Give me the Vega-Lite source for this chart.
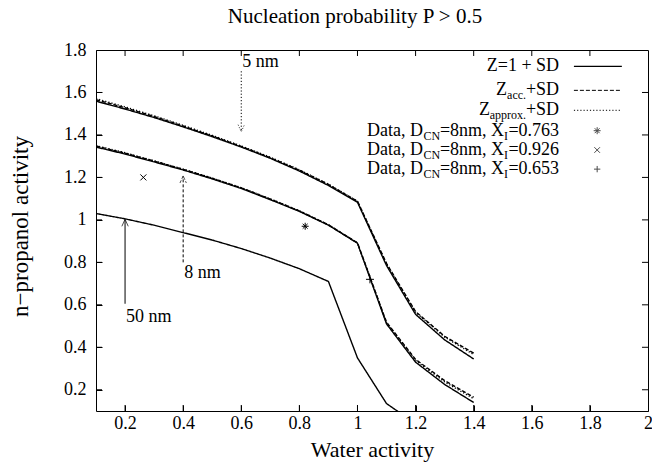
{
  "$schema": "https://vega.github.io/schema/vega-lite/v6.json",
  "width": 552,
  "height": 361,
  "autosize": {"type": "none"},
  "padding": {"left": 96, "top": 50, "right": 4, "bottom": 55},
  "background": "white",
  "config": {
    "font": "Liberation Serif",
    "view": {"stroke": "black", "strokeWidth": 1},
    "axis": {
      "labelFont": "Liberation Serif", "labelFontSize": 18, "labelColor": "black",
      "titleFont": "Liberation Serif", "titleFontSize": 22, "titleFontWeight": "normal", "titleColor": "black",
      "ticks": true, "tickColor": "black", "tickOpacity": 1, "tickSize": 6, "tickWidth": 1, "offset": -6, "domain": false, "grid": false, "zindex": 1,
      "labelFlush": false, "labelOverlap": false, "labelBound": false
    },
    "text": {"font": "Liberation Serif", "fontSize": 18, "color": "black"}
  },
  "title": {"text": "Nucleation probability P > 0.5", "font": "Liberation Serif", "fontSize": 21, "fontWeight": "normal", "color": "black", "dx": -17, "offset": 14},
  "data": {"values": [{}]},
  "datasets": {
    "curves": [
      {"a":0.1,"p":1.559,"c":"5 nm","m":"Z=1 + SD"},{"a":0.2,"p":1.522,"c":"5 nm","m":"Z=1 + SD"},{"a":0.3,"p":1.482,"c":"5 nm","m":"Z=1 + SD"},{"a":0.4,"p":1.438,"c":"5 nm","m":"Z=1 + SD"},{"a":0.5,"p":1.392,"c":"5 nm","m":"Z=1 + SD"},{"a":0.6,"p":1.343,"c":"5 nm","m":"Z=1 + SD"},{"a":0.7,"p":1.29,"c":"5 nm","m":"Z=1 + SD"},{"a":0.8,"p":1.23,"c":"5 nm","m":"Z=1 + SD"},{"a":0.9,"p":1.162,"c":"5 nm","m":"Z=1 + SD"},{"a":1.0,"p":1.083,"c":"5 nm","m":"Z=1 + SD"},{"a":1.1,"p":0.785,"c":"5 nm","m":"Z=1 + SD"},{"a":1.2,"p":0.555,"c":"5 nm","m":"Z=1 + SD"},{"a":1.3,"p":0.435,"c":"5 nm","m":"Z=1 + SD"},{"a":1.4,"p":0.345,"c":"5 nm","m":"Z=1 + SD"},
      {"a":0.1,"p":1.566,"c":"5 nm","m":"Zacc"},{"a":0.2,"p":1.528,"c":"5 nm","m":"Zacc"},{"a":0.3,"p":1.487,"c":"5 nm","m":"Zacc"},{"a":0.4,"p":1.442,"c":"5 nm","m":"Zacc"},{"a":0.5,"p":1.395,"c":"5 nm","m":"Zacc"},{"a":0.6,"p":1.346,"c":"5 nm","m":"Zacc"},{"a":0.7,"p":1.293,"c":"5 nm","m":"Zacc"},{"a":0.8,"p":1.234,"c":"5 nm","m":"Zacc"},{"a":0.9,"p":1.167,"c":"5 nm","m":"Zacc"},{"a":1.0,"p":1.088,"c":"5 nm","m":"Zacc"},{"a":1.1,"p":0.795,"c":"5 nm","m":"Zacc"},{"a":1.2,"p":0.568,"c":"5 nm","m":"Zacc"},{"a":1.3,"p":0.452,"c":"5 nm","m":"Zacc"},{"a":1.4,"p":0.372,"c":"5 nm","m":"Zacc"},
      {"a":0.1,"p":1.571,"c":"5 nm","m":"Zapprox"},{"a":0.2,"p":1.532,"c":"5 nm","m":"Zapprox"},{"a":0.3,"p":1.49,"c":"5 nm","m":"Zapprox"},{"a":0.4,"p":1.445,"c":"5 nm","m":"Zapprox"},{"a":0.5,"p":1.398,"c":"5 nm","m":"Zapprox"},{"a":0.6,"p":1.348,"c":"5 nm","m":"Zapprox"},{"a":0.7,"p":1.295,"c":"5 nm","m":"Zapprox"},{"a":0.8,"p":1.236,"c":"5 nm","m":"Zapprox"},{"a":0.9,"p":1.168,"c":"5 nm","m":"Zapprox"},{"a":1.0,"p":1.088,"c":"5 nm","m":"Zapprox"},{"a":1.1,"p":0.792,"c":"5 nm","m":"Zapprox"},{"a":1.2,"p":0.565,"c":"5 nm","m":"Zapprox"},{"a":1.3,"p":0.448,"c":"5 nm","m":"Zapprox"},{"a":1.4,"p":0.366,"c":"5 nm","m":"Zapprox"},
      {"a":0.1,"p":1.343,"c":"8 nm","m":"Z=1 + SD"},{"a":0.2,"p":1.31,"c":"8 nm","m":"Z=1 + SD"},{"a":0.3,"p":1.273,"c":"8 nm","m":"Z=1 + SD"},{"a":0.4,"p":1.235,"c":"8 nm","m":"Z=1 + SD"},{"a":0.5,"p":1.193,"c":"8 nm","m":"Z=1 + SD"},{"a":0.6,"p":1.148,"c":"8 nm","m":"Z=1 + SD"},{"a":0.7,"p":1.095,"c":"8 nm","m":"Z=1 + SD"},{"a":0.8,"p":1.04,"c":"8 nm","m":"Z=1 + SD"},{"a":0.9,"p":0.975,"c":"8 nm","m":"Z=1 + SD"},{"a":1.0,"p":0.89,"c":"8 nm","m":"Z=1 + SD"},{"a":1.1,"p":0.51,"c":"8 nm","m":"Z=1 + SD"},{"a":1.2,"p":0.33,"c":"8 nm","m":"Z=1 + SD"},{"a":1.3,"p":0.225,"c":"8 nm","m":"Z=1 + SD"},{"a":1.4,"p":0.14,"c":"8 nm","m":"Z=1 + SD"},
      {"a":0.1,"p":1.348,"c":"8 nm","m":"Zacc"},{"a":0.2,"p":1.314,"c":"8 nm","m":"Zacc"},{"a":0.3,"p":1.277,"c":"8 nm","m":"Zacc"},{"a":0.4,"p":1.238,"c":"8 nm","m":"Zacc"},{"a":0.5,"p":1.196,"c":"8 nm","m":"Zacc"},{"a":0.6,"p":1.151,"c":"8 nm","m":"Zacc"},{"a":0.7,"p":1.098,"c":"8 nm","m":"Zacc"},{"a":0.8,"p":1.042,"c":"8 nm","m":"Zacc"},{"a":0.9,"p":0.977,"c":"8 nm","m":"Zacc"},{"a":1.0,"p":0.892,"c":"8 nm","m":"Zacc"},{"a":1.1,"p":0.518,"c":"8 nm","m":"Zacc"},{"a":1.2,"p":0.343,"c":"8 nm","m":"Zacc"},{"a":1.3,"p":0.243,"c":"8 nm","m":"Zacc"},{"a":1.4,"p":0.165,"c":"8 nm","m":"Zacc"},
      {"a":0.1,"p":1.35,"c":"8 nm","m":"Zapprox"},{"a":0.2,"p":1.316,"c":"8 nm","m":"Zapprox"},{"a":0.3,"p":1.278,"c":"8 nm","m":"Zapprox"},{"a":0.4,"p":1.239,"c":"8 nm","m":"Zapprox"},{"a":0.5,"p":1.197,"c":"8 nm","m":"Zapprox"},{"a":0.6,"p":1.152,"c":"8 nm","m":"Zapprox"},{"a":0.7,"p":1.099,"c":"8 nm","m":"Zapprox"},{"a":0.8,"p":1.043,"c":"8 nm","m":"Zapprox"},{"a":0.9,"p":0.977,"c":"8 nm","m":"Zapprox"},{"a":1.0,"p":0.891,"c":"8 nm","m":"Zapprox"},{"a":1.1,"p":0.515,"c":"8 nm","m":"Zapprox"},{"a":1.2,"p":0.338,"c":"8 nm","m":"Zapprox"},{"a":1.3,"p":0.237,"c":"8 nm","m":"Zapprox"},{"a":1.4,"p":0.158,"c":"8 nm","m":"Zapprox"},
      {"a":0.1,"p":1.03,"c":"50 nm","m":"Z=1 + SD"},{"a":0.2,"p":1.005,"c":"50 nm","m":"Z=1 + SD"},{"a":0.3,"p":0.975,"c":"50 nm","m":"Z=1 + SD"},{"a":0.4,"p":0.94,"c":"50 nm","m":"Z=1 + SD"},{"a":0.5,"p":0.905,"c":"50 nm","m":"Z=1 + SD"},{"a":0.6,"p":0.865,"c":"50 nm","m":"Z=1 + SD"},{"a":0.7,"p":0.82,"c":"50 nm","m":"Z=1 + SD"},{"a":0.8,"p":0.77,"c":"50 nm","m":"Z=1 + SD"},{"a":0.9,"p":0.71,"c":"50 nm","m":"Z=1 + SD"},{"a":1.0,"p":0.35,"c":"50 nm","m":"Z=1 + SD"},{"a":1.1,"p":0.135,"c":"50 nm","m":"Z=1 + SD"},{"a":1.2,"p":0.04,"c":"50 nm","m":"Z=1 + SD"}
    ],
    "pts": [
      {"a":0.82,"p":0.97,"set":"X=0.763"},
      {"a":0.263,"p":1.2,"set":"X=0.926"},
      {"a":1.043,"p":0.72,"set":"X=0.653"}
    ],
    "xt": [{"v":0.2},{"v":0.4},{"v":0.6},{"v":0.8},{"v":1.0},{"v":1.2},{"v":1.4},{"v":1.6},{"v":1.8}],
    "yt": [{"v":0.2},{"v":0.4},{"v":0.6},{"v":0.8},{"v":1.0},{"v":1.2},{"v":1.4},{"v":1.6}]
  },
  "layer": [
    {
      "data": {"name": "curves"},
      "mark": {"type": "line", "color": "black", "strokeWidth": 1.4, "clip": true},
      "encoding": {
        "x": {"field": "a", "type": "quantitative", "title": "Water activity",
              "scale": {"domain": [0.1, 2], "nice": false, "zero": false},
              "axis": {"values": [0.2,0.4,0.6,0.8,1,1.2,1.4,1.6,1.8,2], "format": ".2~f", "labelFont": "Liberation Serif", "labelPadding": 3, "titlePadding": 7}},
        "y": {"field": "p", "type": "quantitative", "title": "n−propanol activity",
              "scale": {"domain": [0.1, 1.8], "nice": false, "zero": false},
              "axis": {"values": [0.2,0.4,0.6,0.8,1,1.2,1.4,1.6,1.8], "format": ".2~f", "labelFont": "Liberation Serif", "labelPadding": 10, "titlePadding": 31, "titleFontSize": 23, "titleY": 176}},
        "detail": {"field": "c"},
        "strokeDash": {"field": "m", "scale": {"domain": ["Z=1 + SD","Zacc","Zapprox"], "range": [[1,0],[4,2],[1.2,2]]}, "legend": null}
      }
    },
    {"data": {"name": "xt"}, "mark": {"type": "rule", "color": "black", "strokeWidth": 1},
     "encoding": {"x": {"field": "v", "type": "quantitative"}, "y": {"datum": 0.1, "type": "quantitative"}, "y2": {"datum": 0.1283}}},
    {"data": {"name": "xt"}, "mark": {"type": "rule", "color": "black", "strokeWidth": 1},
     "encoding": {"x": {"field": "v", "type": "quantitative"}, "y": {"datum": 1.8, "type": "quantitative"}, "y2": {"datum": 1.7717}}},
    {"data": {"name": "yt"}, "mark": {"type": "rule", "color": "black", "strokeWidth": 1},
     "encoding": {"y": {"field": "v", "type": "quantitative"}, "x": {"datum": 0.1, "type": "quantitative"}, "x2": {"datum": 0.1207}}},
    {"data": {"name": "yt"}, "mark": {"type": "rule", "color": "black", "strokeWidth": 1},
     "encoding": {"y": {"field": "v", "type": "quantitative"}, "x": {"datum": 2.0, "type": "quantitative"}, "x2": {"datum": 1.9793}}},
    {
      "data": {"name": "pts"},
      "mark": {"type": "point", "filled": false, "stroke": "black", "strokeWidth": 1, "opacity": 1},
      "encoding": {
        "x": {"field": "a", "type": "quantitative"},
        "y": {"field": "p", "type": "quantitative"},
        "size": {"field": "set", "scale": {"domain": ["X=0.763","X=0.926","X=0.653"], "range": [49, 64, 49]}, "legend": null},
        "shape": {"field": "set", "scale": {"domain": ["X=0.763","X=0.926","X=0.653"], "range": ["M-1,0L1,0M0,-1L0,1M-0.7,-0.7L0.7,0.7M-0.7,0.7L0.7,-0.7", "M-0.8,-0.8L0.8,0.8M-0.8,0.8L0.8,-0.8", "M-1,0L1,0M0,-1L0,1"]}, "legend": null}
      }
    },
    {"mark": {"type": "rule", "color": "black", "strokeWidth": 1, "strokeDash": [1.2, 2]},
     "encoding": {"x": {"datum": 0.6, "type": "quantitative"}, "y": {"datum": 1.70, "type": "quantitative"}, "y2": {"datum": 1.415}}},
    {"mark": {"type": "point", "filled": false, "stroke": "black", "strokeWidth": 1, "size": 200, "shape": "M-0.45,-1L0,0L0.45,-1", "strokeDash": [1.2, 1.5]},
     "encoding": {"x": {"datum": 0.6, "type": "quantitative"}, "y": {"datum": 1.415, "type": "quantitative"}}},
    {"mark": {"type": "text", "align": "left", "baseline": "middle", "dx": 1},
     "encoding": {"x": {"datum": 0.6, "type": "quantitative"}, "y": {"datum": 1.745, "type": "quantitative"}, "text": {"value": "5 nm"}}},
    {"mark": {"type": "rule", "color": "black", "strokeWidth": 1, "strokeDash": [3, 2]},
     "encoding": {"x": {"datum": 0.4, "type": "quantitative"}, "y": {"datum": 0.8, "type": "quantitative"}, "y2": {"datum": 1.207}}},
    {"mark": {"type": "point", "filled": false, "stroke": "black", "strokeWidth": 1, "size": 200, "shape": "M-0.45,1L0,0L0.45,1", "strokeDash": [3, 1.5]},
     "encoding": {"x": {"datum": 0.4, "type": "quantitative"}, "y": {"datum": 1.207, "type": "quantitative"}}},
    {"mark": {"type": "text", "align": "left", "baseline": "middle", "dx": 1},
     "encoding": {"x": {"datum": 0.4, "type": "quantitative"}, "y": {"datum": 0.748, "type": "quantitative"}, "text": {"value": "8 nm"}}},
    {"mark": {"type": "rule", "color": "black", "strokeWidth": 1},
     "encoding": {"x": {"datum": 0.2, "type": "quantitative"}, "y": {"datum": 0.605, "type": "quantitative"}, "y2": {"datum": 1.003}}},
    {"mark": {"type": "point", "filled": false, "stroke": "black", "strokeWidth": 1, "size": 200, "shape": "M-0.45,1L0,0L0.45,1"},
     "encoding": {"x": {"datum": 0.2, "type": "quantitative"}, "y": {"datum": 1.003, "type": "quantitative"}}},
    {"mark": {"type": "text", "align": "left", "baseline": "middle", "dx": 1},
     "encoding": {"x": {"datum": 0.2, "type": "quantitative"}, "y": {"datum": 0.545, "type": "quantitative"}, "text": {"value": "50 nm"}}},

    {"mark": {"type": "text", "align": "right", "baseline": "middle"},
     "encoding": {"x": {"datum": 1.694, "type": "quantitative"}, "y": {"datum": 1.723, "type": "quantitative"}, "text": {"value": "Z=1 + SD"}}},
    {"mark": {"type": "rule", "color": "black", "strokeWidth": 1.4},
     "encoding": {"x": {"datum": 1.745, "type": "quantitative"}, "x2": {"datum": 1.91}, "y": {"datum": 1.723, "type": "quantitative"}}},

    {"mark": {"type": "text", "align": "right", "baseline": "middle"},
     "encoding": {"x": {"datum": 1.694, "type": "quantitative"}, "y": {"datum": 1.61, "type": "quantitative"}, "text": {"value": "+SD"}}},
    {"mark": {"type": "text", "align": "right", "baseline": "middle", "fontSize": 12, "dx": -33, "dy": 5},
     "encoding": {"x": {"datum": 1.694, "type": "quantitative"}, "y": {"datum": 1.61, "type": "quantitative"}, "text": {"value": "acc."}}},
    {"mark": {"type": "text", "align": "right", "baseline": "middle", "dx": -52},
     "encoding": {"x": {"datum": 1.694, "type": "quantitative"}, "y": {"datum": 1.61, "type": "quantitative"}, "text": {"value": "Z"}}},
    {"mark": {"type": "rule", "color": "black", "strokeWidth": 1, "strokeDash": [4, 2]},
     "encoding": {"x": {"datum": 1.745, "type": "quantitative"}, "x2": {"datum": 1.91}, "y": {"datum": 1.61, "type": "quantitative"}}},

    {"mark": {"type": "text", "align": "right", "baseline": "middle"},
     "encoding": {"x": {"datum": 1.694, "type": "quantitative"}, "y": {"datum": 1.516, "type": "quantitative"}, "text": {"value": "+SD"}}},
    {"mark": {"type": "text", "align": "right", "baseline": "middle", "fontSize": 12, "dx": -33, "dy": 5},
     "encoding": {"x": {"datum": 1.694, "type": "quantitative"}, "y": {"datum": 1.516, "type": "quantitative"}, "text": {"value": "approx."}}},
    {"mark": {"type": "text", "align": "right", "baseline": "middle", "dx": -69},
     "encoding": {"x": {"datum": 1.694, "type": "quantitative"}, "y": {"datum": 1.516, "type": "quantitative"}, "text": {"value": "Z"}}},
    {"mark": {"type": "rule", "color": "black", "strokeWidth": 1, "strokeDash": [1.2, 2]},
     "encoding": {"x": {"datum": 1.745, "type": "quantitative"}, "x2": {"datum": 1.91}, "y": {"datum": 1.516, "type": "quantitative"}}},

    {"mark": {"type": "text", "align": "right", "baseline": "middle"},
     "encoding": {"x": {"datum": 1.694, "type": "quantitative"}, "y": {"datum": 1.42, "type": "quantitative"}, "text": {"value": "=0.763"}}},
    {"mark": {"type": "text", "align": "right", "baseline": "middle", "fontSize": 12, "dx": -51, "dy": 5},
     "encoding": {"x": {"datum": 1.694, "type": "quantitative"}, "y": {"datum": 1.42, "type": "quantitative"}, "text": {"value": "I"}}},
    {"mark": {"type": "text", "align": "right", "baseline": "middle", "dx": -55},
     "encoding": {"x": {"datum": 1.694, "type": "quantitative"}, "y": {"datum": 1.42, "type": "quantitative"}, "text": {"value": "=8nm, X"}}},
    {"mark": {"type": "text", "align": "right", "baseline": "middle", "fontSize": 12, "dx": -119, "dy": 5},
     "encoding": {"x": {"datum": 1.694, "type": "quantitative"}, "y": {"datum": 1.42, "type": "quantitative"}, "text": {"value": "CN"}}},
    {"mark": {"type": "text", "align": "right", "baseline": "middle", "dx": -136},
     "encoding": {"x": {"datum": 1.694, "type": "quantitative"}, "y": {"datum": 1.42, "type": "quantitative"}, "text": {"value": "Data, D"}}},
    {"mark": {"type": "point", "filled": false, "stroke": "black", "strokeWidth": 1, "size": 49, "shape": "M-1,0L1,0M0,-1L0,1M-0.7,-0.7L0.7,0.7M-0.7,0.7L0.7,-0.7"},
     "encoding": {"x": {"datum": 1.825, "type": "quantitative"}, "y": {"datum": 1.42, "type": "quantitative"}}},

    {"mark": {"type": "text", "align": "right", "baseline": "middle"},
     "encoding": {"x": {"datum": 1.694, "type": "quantitative"}, "y": {"datum": 1.329, "type": "quantitative"}, "text": {"value": "=0.926"}}},
    {"mark": {"type": "text", "align": "right", "baseline": "middle", "fontSize": 12, "dx": -51, "dy": 5},
     "encoding": {"x": {"datum": 1.694, "type": "quantitative"}, "y": {"datum": 1.329, "type": "quantitative"}, "text": {"value": "I"}}},
    {"mark": {"type": "text", "align": "right", "baseline": "middle", "dx": -55},
     "encoding": {"x": {"datum": 1.694, "type": "quantitative"}, "y": {"datum": 1.329, "type": "quantitative"}, "text": {"value": "=8nm, X"}}},
    {"mark": {"type": "text", "align": "right", "baseline": "middle", "fontSize": 12, "dx": -119, "dy": 5},
     "encoding": {"x": {"datum": 1.694, "type": "quantitative"}, "y": {"datum": 1.329, "type": "quantitative"}, "text": {"value": "CN"}}},
    {"mark": {"type": "text", "align": "right", "baseline": "middle", "dx": -136},
     "encoding": {"x": {"datum": 1.694, "type": "quantitative"}, "y": {"datum": 1.329, "type": "quantitative"}, "text": {"value": "Data, D"}}},
    {"mark": {"type": "point", "filled": false, "stroke": "black", "strokeWidth": 1, "size": 49, "shape": "M-0.8,-0.8L0.8,0.8M-0.8,0.8L0.8,-0.8"},
     "encoding": {"x": {"datum": 1.825, "type": "quantitative"}, "y": {"datum": 1.329, "type": "quantitative"}}},

    {"mark": {"type": "text", "align": "right", "baseline": "middle"},
     "encoding": {"x": {"datum": 1.694, "type": "quantitative"}, "y": {"datum": 1.239, "type": "quantitative"}, "text": {"value": "=0.653"}}},
    {"mark": {"type": "text", "align": "right", "baseline": "middle", "fontSize": 12, "dx": -51, "dy": 5},
     "encoding": {"x": {"datum": 1.694, "type": "quantitative"}, "y": {"datum": 1.239, "type": "quantitative"}, "text": {"value": "I"}}},
    {"mark": {"type": "text", "align": "right", "baseline": "middle", "dx": -55},
     "encoding": {"x": {"datum": 1.694, "type": "quantitative"}, "y": {"datum": 1.239, "type": "quantitative"}, "text": {"value": "=8nm, X"}}},
    {"mark": {"type": "text", "align": "right", "baseline": "middle", "fontSize": 12, "dx": -119, "dy": 5},
     "encoding": {"x": {"datum": 1.694, "type": "quantitative"}, "y": {"datum": 1.239, "type": "quantitative"}, "text": {"value": "CN"}}},
    {"mark": {"type": "text", "align": "right", "baseline": "middle", "dx": -136},
     "encoding": {"x": {"datum": 1.694, "type": "quantitative"}, "y": {"datum": 1.239, "type": "quantitative"}, "text": {"value": "Data, D"}}},
    {"mark": {"type": "point", "filled": false, "stroke": "black", "strokeWidth": 1, "size": 40, "shape": "M-1,0L1,0M0,-1L0,1"},
     "encoding": {"x": {"datum": 1.825, "type": "quantitative"}, "y": {"datum": 1.239, "type": "quantitative"}}}
  ]
}
